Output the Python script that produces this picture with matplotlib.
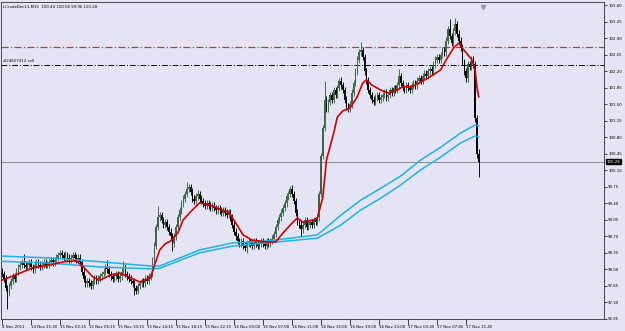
import matplotlib
matplotlib.use("Agg")
import matplotlib.pyplot as plt
import matplotlib.transforms as mtransforms

# LCrudeDec11, M15 - close of each bar
closes = [
    97.90, 97.80, 97.60, 97.50, 97.65, 97.75, 97.85, 97.80, 97.95, 98.05, 98.10,
    98.15, 98.10, 98.05, 98.10, 98.15, 98.05, 98.00, 98.10, 98.15, 98.10, 98.05,
    98.10, 98.15, 98.10, 98.10, 98.15, 98.20, 98.15, 98.20, 98.25, 98.30, 98.35,
    98.30, 98.25, 98.30, 98.25, 98.20, 98.25, 98.30, 98.25, 98.20, 98.25, 98.15,
    97.95, 97.80, 97.70, 97.75, 97.70, 97.65, 97.75, 97.80, 97.75, 97.80, 97.85,
    97.90, 97.95, 98.05, 98.00, 97.90, 97.85, 97.80, 97.85, 97.90, 97.80, 97.85,
    97.95, 98.05, 97.90, 97.85, 97.80, 97.75, 97.70, 97.60, 97.55, 97.65, 97.70,
    97.75, 97.70, 97.80, 97.75, 97.85, 97.90,
    98.20, 98.50, 98.90, 99.10, 99.15, 99.05, 98.95, 99.00, 98.90, 98.80, 98.70, 98.55,
    98.70, 98.90, 99.10, 99.25, 99.40, 99.50, 99.60, 99.70, 99.75, 99.65, 99.50,
    99.45, 99.55, 99.60, 99.50,
    99.45, 99.40, 99.35, 99.40, 99.35, 99.30, 99.35, 99.30, 99.25, 99.30, 99.25,
    99.20, 99.25, 99.20, 99.15, 99.20, 99.10,
    98.95, 98.80, 98.70, 98.60, 98.55, 98.60, 98.50, 98.45, 98.55, 98.60, 98.55,
    98.50, 98.60, 98.55, 98.50, 98.55, 98.60, 98.55, 98.50, 98.60, 98.55, 98.60, 98.65,
    98.75, 98.90, 99.05, 99.10, 99.20, 99.30, 99.40, 99.55, 99.60, 99.70, 99.60,
    99.45, 99.20, 99.00, 98.95,
    98.85, 98.95, 99.05, 98.90, 98.95, 99.00, 98.95, 99.05, 99.00, 99.10,
    99.60, 100.40, 101.00, 101.60, 101.40, 101.55, 101.70, 101.60, 101.80, 101.70,
    101.85, 102.00, 101.90, 101.80, 101.60,
    101.45, 101.40, 101.50, 101.75, 101.95, 102.20, 102.45, 102.60, 102.65, 102.50,
    102.20, 102.00, 101.80, 101.70, 101.60, 101.55, 101.65, 101.70, 101.60, 101.65,
    101.70, 101.75, 101.65, 101.70, 101.80, 101.75, 101.85, 101.80, 101.90, 102.10,
    101.95, 101.85, 101.80, 101.90, 101.85, 101.80, 101.90, 101.95, 101.90, 102.00,
    102.05, 102.00, 102.10, 102.15, 102.10, 102.20, 102.25, 102.20, 102.35, 102.45,
    102.50, 102.45, 102.55,
    102.65, 102.60, 102.85, 103.10, 102.95, 102.80, 103.05, 103.20, 103.00, 102.85, 102.70,
    102.40, 102.20, 102.05, 102.35, 102.30, 102.45, 102.35, 101.20, 100.44, 100.28,
]
first_open = 97.95
# bars whose wicks stick out: index -> (high, low)
spikes = {
    3: (None, 97.15), 12: (98.32, None), 35: (98.38, None), 58: (98.20, None),
    67: (98.18, None), 73: (None, 97.45), 86: (99.35, None), 94: (None, 98.38),
    102: (99.85, None), 108: (99.68, None), 135: (None, 98.35), 160: (99.78, None),
    165: (None, 98.68), 178: (102.00, None), 186: (102.05, None), 198: (102.82, None),
    219: (102.25, None), 247: (103.32, None), 250: (103.33, None),
    263: (100.56, 99.96),
}

# red moving average, sampled at bar indices
ma_idx = [0, 10, 17, 26, 34, 41, 45, 50, 54, 60, 65, 71, 76, 82, 84, 87, 90, 93, 97, 100,
          104, 109, 115, 120, 125, 129, 133, 138, 146, 151, 155, 160, 163, 166, 172, 174,
          177, 179, 183, 185, 188, 192, 196, 199, 201, 204, 209, 213, 218, 221, 226, 231,
          236, 242, 245, 249, 252, 254, 257, 259, 261, 262, 263]
ma_red = [97.77, 97.92, 98.03, 98.09, 98.16, 98.18, 98.05, 97.84, 97.77, 97.88, 97.92,
          97.82, 97.73, 97.82, 98.07, 98.41, 98.54, 98.60, 98.77, 99.05, 99.22, 99.41,
          99.36, 99.28, 99.22, 98.98, 98.73, 98.62, 98.58, 98.58, 98.77, 98.98, 99.09,
          99.00, 99.05, 99.09, 99.53, 100.32, 100.89, 101.23, 101.36, 101.42, 101.66,
          101.95, 102.02, 101.91, 101.80, 101.74, 101.80, 101.87, 101.87, 101.97, 102.08,
          102.23, 102.44, 102.69, 102.80, 102.69, 102.55, 102.46, 102.23, 101.87, 101.66]

# slow cyan band (upper / lower)
band_idx = [0, 27, 54, 82, 87, 109, 127, 146, 174, 187, 198, 209, 220, 231, 242, 253, 261, 263]
band_up = [98.28, 98.24, 98.16, 98.07, 98.07, 98.41, 98.56, 98.60, 98.73, 99.15, 99.47,
           99.72, 99.98, 100.32, 100.59, 100.89, 101.06, 101.04]
band_lo = [98.17, 98.13, 98.05, 98.01, 98.02, 98.35, 98.49, 98.56, 98.66, 98.94, 99.26,
           99.51, 99.79, 100.11, 100.38, 100.68, 100.83, 100.81]

order_line = 102.33
red_level = 102.71
time_labels = ["4 Nov 2011", "14 Nov 21:30", "15 Nov 02:15", "15 Nov 06:15", "15 Nov 10:15",
               "15 Nov 14:15", "15 Nov 18:15", "15 Nov 22:15", "16 Nov 03:00", "16 Nov 07:00",
               "16 Nov 11:00", "16 Nov 15:00", "16 Nov 19:00", "16 Nov 23:00", "17 Nov 03:45",
               "17 Nov 07:45", "17 Nov 11:45"]
title = "LCrudeDec11,M15  100.44 100.56 99.96 100.28"

opens = [first_open] + closes[:-1]
highs, lows = [], []
for i, (o, c) in enumerate(zip(opens, closes)):
    h, l = max(o, c) + 0.07, min(o, c) - 0.07
    if i in spikes:
        sh, sl = spikes[i]
        h = sh if sh is not None else h
        l = sl if sl is not None else l
    highs.append(h)
    lows.append(l)

bg = "#E4E4F4"
fig = plt.figure(figsize=(6.25, 3.31), dpi=100, facecolor=bg)
ax = fig.add_axes([1 / 625, 12 / 331, 603 / 625, 317 / 331])
ax.set_facecolor(bg)

x = list(range(len(closes)))
cols = ["#3a6644" if c >= o else "black" for o, c in zip(opens, closes)]
ax.hlines(closes[-1], -1, 400, color="#8a8a8a", lw=0.7, zorder=1)
ax.vlines(x, lows, highs, colors=cols, lw=0.65, zorder=2)
ax.bar(x, [max(abs(c - o), 0.015) for o, c in zip(opens, closes)],
       bottom=[min(o, c) for o, c in zip(opens, closes)],
       width=0.8, color=cols, linewidth=0, zorder=2)

ax.plot(band_idx, band_up, color="#1fb2e4", lw=1.1, zorder=3)
ax.plot(band_idx, band_lo, color="#1fb2e4", lw=1.1, zorder=3)
ax.plot(ma_idx, ma_red, color="#d40000", lw=1.2, zorder=4)

ax.axhline(red_level, color="#e02828", lw=0.85, ls=(0, (6, 2, 1, 2)), zorder=1)
ax.axhline(order_line, color="black", lw=0.7, ls=(0, (6, 2, 1, 2)), zorder=1)
ax.text(0.5, order_line + 0.04, "#24827412 sell", fontsize=2.8, va="bottom", ha="left")
ax.text(0.003, 0.992, title, transform=ax.transAxes, fontsize=2.8, va="top", ha="left")

# chart shift marker
trans = mtransforms.blended_transform_factory(ax.transData, ax.transAxes)
ax.plot([len(closes) + 1.5], [0.985], marker="v", ms=3, color="#9a9a9a",
        transform=trans, clip_on=False)

ax.set_xlim(-0.55, 332.1)
ax.set_ylim(96.946, 103.67)

yt = [round(96.95 + 0.35 * k, 2) for k in range(20)]
ax.yaxis.tick_right()
ax.set_yticks(yt)
ax.set_yticklabels(["%.2f" % v for v in yt])
ax.tick_params(axis="y", length=2, width=0.5, pad=1, labelsize=2.8)

xt = list(range(0, len(closes), 16))
ax.set_xticks(xt)
ax.set_xticklabels(time_labels[:len(xt)], ha="left")
ax.tick_params(axis="x", length=4, width=0.5, pad=0.5, labelsize=2.8)

ax.text(1.004, closes[-1], "%.2f" % closes[-1], transform=mtransforms.blended_transform_factory(
        ax.transAxes, ax.transData), fontsize=2.8, color="white", va="center", ha="left",
        bbox=dict(boxstyle="square,pad=0.15", fc="black", ec="black"))

for s in ax.spines.values():
    s.set_linewidth(0.6)
    s.set_color("#303030")

fig.savefig("out.png", dpi=100, facecolor=bg)
